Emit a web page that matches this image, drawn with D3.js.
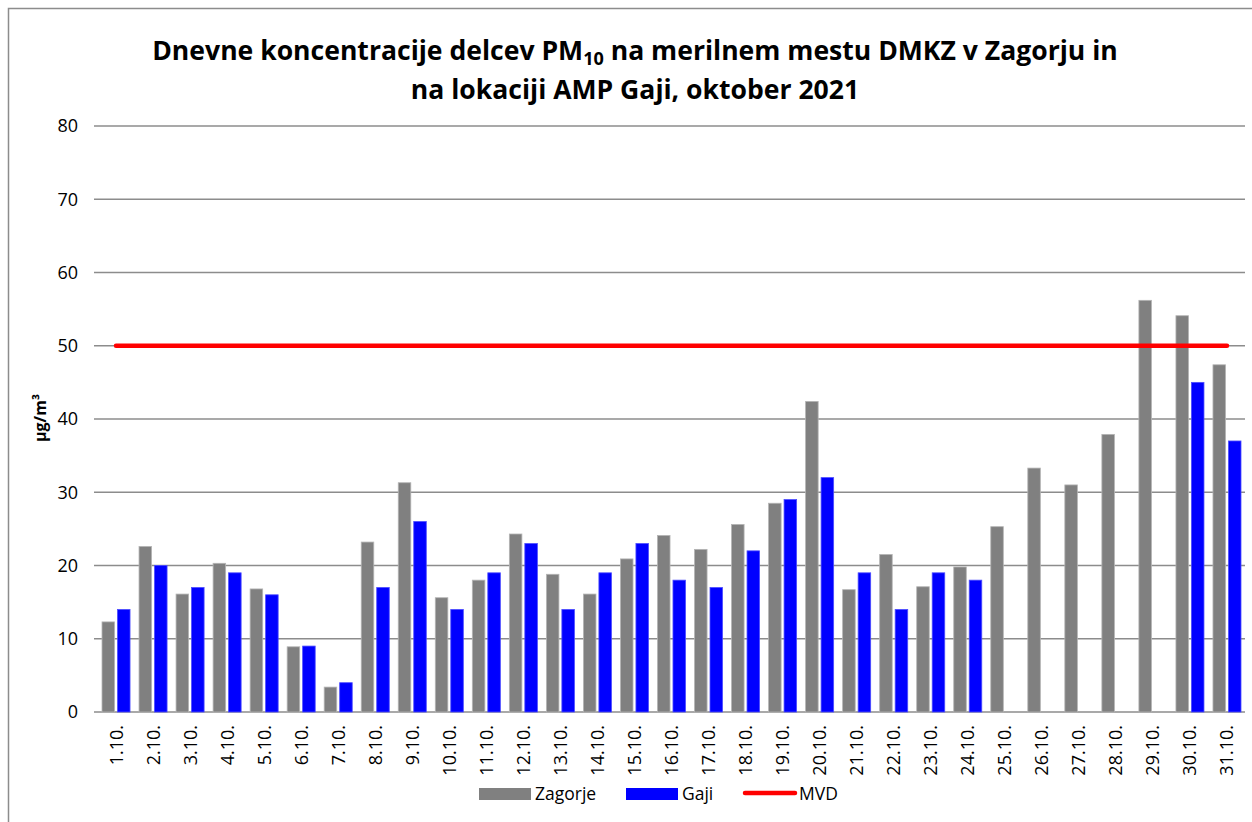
<!DOCTYPE html>
<html>
<head>
<meta charset="utf-8">
<script src="https://cdn.jsdelivr.net/npm/d3@7"></script>
<style>
  body { margin: 0; background: #fff; }
  text { font-family: "Open Sans", sans-serif; fill: #000; }
</style>
</head>
<body>
<div class="div_d3"></div>
<script>
// data
const days = ["1.10.","2.10.","3.10.","4.10.","5.10.","6.10.","7.10.","8.10.","9.10.","10.10.",
  "11.10.","12.10.","13.10.","14.10.","15.10.","16.10.","17.10.","18.10.","19.10.","20.10.",
  "21.10.","22.10.","23.10.","24.10.","25.10.","26.10.","27.10.","28.10.","29.10.","30.10.","31.10."];
const zagorje = [12.3,22.6,16.1,20.3,16.8,8.9,3.4,23.2,31.3,15.6,
  18.0,24.3,18.8,16.1,20.9,24.1,22.2,25.6,28.5,42.4,
  16.7,21.5,17.1,19.8,25.3,33.3,31.0,37.9,56.2,54.1,47.4];
const gaji = [14,20,17,19,16,9,4,17,26,14,
  19,23,14,19,23,18,17,22,29,32,
  19,14,19,18,null,null,null,null,null,45,37];
const mvd = 50;
const yTicks = [0,10,20,30,40,50,60,70,80];
const seriesNames = ["Zagorje","Gaji","MVD"];
const titleLine1 = ["Dnevne koncentracije delcev PM", "10", " na merilnem mestu DMKZ v Zagorju in"];
const titleLine2 = "na lokaciji AMP Gaji, oktober 2021";
const yLabel = "µg/m³";

const W = 1252, H = 822;
const plot = {left: 98, right: 1245, top: 126, bottom: 712};
const colors = {Zagorje: "#808080", Gaji: "#0000ff", MVD: "#ff0000"};

const svg = d3.select(".div_d3").append("svg")
    .attr("width", W).attr("height", H);

// chart border
svg.append("rect")
    .attr("x", 8.5).attr("y", 8.5)
    .attr("width", W + 10).attr("height", H + 10)
    .attr("fill", "none").attr("stroke", "#8c8c8c").attr("stroke-width", 1.5);

const x = d3.scaleBand().domain(days)
    .range([plot.left, plot.right])
    .paddingInner(0.243).paddingOuter(0.108);
const xs = d3.scaleBand().domain(["Zagorje","Gaji"])
    .range([0, x.bandwidth()]).paddingInner(0.19);
const y = d3.scaleLinear().domain([0, 80]).range([plot.bottom, plot.top]);

// gridlines
svg.append("g").selectAll("line")
  .data(yTicks)
  .enter().append("line")
    .attr("x1", plot.left - 4).attr("x2", plot.right)
    .attr("y1", d => y(d)).attr("y2", d => y(d))
    .attr("stroke", "#8c8c8c").attr("stroke-width", 1.6);

// y tick labels
svg.append("g").selectAll("text")
  .data(yTicks)
  .enter().append("text")
    .attr("x", 78).attr("y", d => y(d))
    .attr("dy", "0.36em")
    .attr("text-anchor", "end")
    .style("font-size", "18px")
    .text(d => d);

// y axis title
svg.append("text")
    .attr("transform", "translate(46,418) rotate(-90)")
    .attr("text-anchor", "middle")
    .style("font-size", "16px").style("font-weight", "bold")
    .text(yLabel);

// bars
const rows = days.map((d, i) => ({day: d, Zagorje: zagorje[i], Gaji: gaji[i]}));
const groups = svg.append("g").selectAll("g")
  .data(rows)
  .enter().append("g")
    .attr("transform", d => `translate(${x(d.day)},0)`);

groups.selectAll("rect")
  .data(d => ["Zagorje","Gaji"].filter(k => d[k] != null).map(k => ({key: k, value: d[k]})))
  .enter().append("rect")
    .attr("x", d => xs(d.key))
    .attr("width", xs.bandwidth())
    .attr("y", d => y(d.value))
    .attr("height", d => y(0) - y(d.value))
    .attr("fill", d => colors[d.key])
    .attr("stroke", d => d.key == "Zagorje" ? "#b4b4b4" : "#4d4dff")
    .attr("stroke-width", 0.8);

// MVD line
const line = d3.line()
    .x(d => x(d) + x.bandwidth() / 2)
    .y(() => y(mvd));
svg.append("path")
    .datum(days)
    .attr("d", line)
    .attr("fill", "none")
    .attr("stroke", colors.MVD)
    .attr("stroke-width", 4.5)
    .attr("stroke-linecap", "round");

// x tick labels
svg.append("g").selectAll("text")
  .data(days)
  .enter().append("text")
    .attr("transform", d => `translate(${x(d) + x.bandwidth() / 2},725) rotate(-90)`)
    .attr("text-anchor", "end")
    .attr("dy", "0.36em")
    .style("font-size", "18px")
    .text(d => d);

// title
const title = svg.append("g").style("font-weight", "bold");
const t1 = title.append("text")
    .attr("x", 635).attr("y", 60)
    .attr("text-anchor", "middle")
    .style("font-size", "22px");
t1.append("tspan").text(titleLine1[0]);
t1.append("tspan").attr("dy", 5).style("font-size", "15px").text(titleLine1[1]);
t1.append("tspan").attr("dy", -5).text(titleLine1[2]);
const t2 = title.append("text")
    .attr("x", 635).attr("y", 99)
    .attr("text-anchor", "middle")
    .style("font-size", "22px")
    .text(titleLine2);
// fit the first line to the reference width
const w1 = t1.node().getComputedTextLength();
const fs = 22 * 966 / w1;
t1.style("font-size", fs + "px");
t1.select("tspan:nth-child(2)").style("font-size", (fs * 0.68) + "px");
t2.style("font-size", fs + "px");

// legend
const legend = svg.append("g").style("font-size", "17.5px");
const legendX = {Zagorje: 479, Gaji: 626, MVD: 743};
seriesNames.forEach(name => {
  const lx = legendX[name];
  if (name == "MVD") {
    legend.append("line")
        .attr("x1", lx + 2).attr("x2", lx + 52)
        .attr("y1", 793).attr("y2", 793)
        .attr("stroke", colors.MVD).attr("stroke-width", 4.5)
        .attr("stroke-linecap", "round");
  } else {
    legend.append("rect")
        .attr("x", lx).attr("y", 788)
        .attr("width", 52).attr("height", 12)
        .attr("fill", colors[name]);
  }
  legend.append("text")
      .attr("x", lx + 56).attr("y", 794)
      .attr("dy", "0.36em")
      .text(name);
});
</script>
</body>
</html>
